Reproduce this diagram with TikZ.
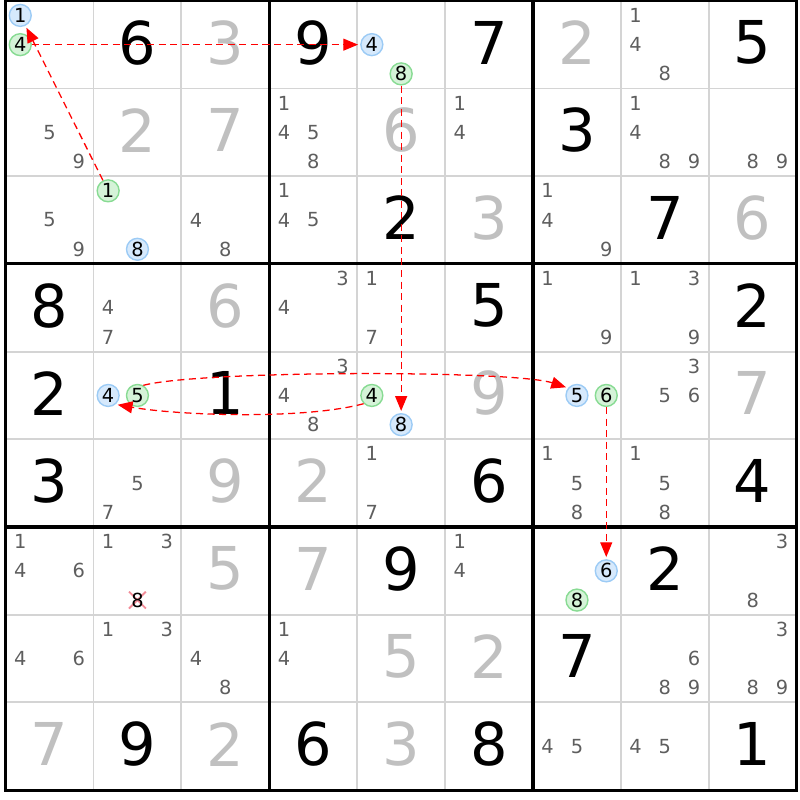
\documentclass[tikz,border=0pt]{standalone}
\usepackage{fontspec}
\setmainfont{DejaVu Sans}
\usetikzlibrary{arrows.meta}
\definecolor{cluegray}{HTML}{C0C0C0}
\definecolor{candgray}{HTML}{5E5E5E}
\definecolor{onfill}{HTML}{D6E9FC}
\definecolor{ondraw}{HTML}{9CCBF5}
\definecolor{offfill}{HTML}{D5F3D8}
\definecolor{offdraw}{HTML}{88DB93}
\definecolor{thingrid}{HTML}{D4D4D4}
\definecolor{strike}{HTML}{F28C98}

\begin{document}
\begin{tikzpicture}[x=2.1975cm, y=-2.1925cm, >={Triangle[length=10.5pt,width=8.5pt]},
        given/.style={font=\fontsize{42}{42}\selectfont, text=black, inner sep=0pt, yshift=1.5pt},
        solved/.style={given, text=cluegray},
        cand/.style={font=\fontsize{13.8}{14}\selectfont, text=candgray, inner sep=0pt},
        linkon/.style={cand, circle, text=black, draw=ondraw, fill=onfill, line width=1pt, minimum size=15.6pt},
        linkoff/.style={linkon, draw=offdraw, fill=offfill},
        link/.style={red, line width=.9pt, dash pattern=on 5pt off 3.2pt, shorten >=1.5pt}]
        \useasboundingbox (-0.0637,-0.0091) rectangle (9.0375,9.1129);
        \foreach \i in {1,2,4,5,7,8} {
          \draw[thingrid, line width=1.4pt] (\i,0) -- (\i,9);
          \draw[thingrid, line width=1.4pt] (0,\i) -- (9,\i);
        }
        \foreach \i in {3,6} {
          \draw[line width=2.2pt] (\i,0) -- (\i,9);
          \draw[line width=2.2pt] (0,\i) -- (9,\i);
        }
        \draw[line width=2.2pt] (0,0) rectangle (9,9);
        % big digits
        \foreach \r/\c/\v in {1/2/6,1/4/9,1/6/7,1/9/5,2/7/3,3/5/2,3/8/7,4/1/8,4/6/5,4/9/2,
            5/1/2,5/3/1,6/1/3,6/6/6,6/9/4,7/5/9,7/8/2,8/7/7,9/2/9,9/4/6,9/6/8,9/9/1}
          \node[given] (g\r\c) at (\c-.5,\r-.5) {\v};
        \foreach \r/\c/\v in {1/3/3,1/7/2,2/2/2,2/3/7,2/5/6,3/6/3,3/9/6,4/3/6,5/6/9,5/9/7,
            6/3/9,6/4/2,7/3/5,7/4/7,8/5/5,8/6/2,9/1/7,9/3/2,9/5/3}
          \node[solved] (g\r\c) at (\c-.5,\r-.5) {\v};
        % candidates
        \foreach \r/\c/\ds in {1/8/{1,4,8},2/1/{5,9},2/4/{1,4,5,8},2/6/{1,4},2/8/{1,4,8,9},2/9/{8,9},
            3/1/{5,9},3/3/{4,8},3/4/{1,4,5},3/7/{1,4,9},4/2/{4,7},4/4/{3,4},4/5/{1,7},4/7/{1,9},
            4/8/{1,3,9},5/4/{3,4,8},5/8/{3,5,6},6/2/{5,7},6/5/{1,7},6/7/{1,5,8},6/8/{1,5,8},
            7/1/{1,4,6},7/2/{1,3},7/6/{1,4},7/9/{3,8},8/1/{4,6},8/2/{1,3},8/3/{4,8},8/4/{1,4},
            8/8/{6,8,9},8/9/{3,8,9},9/7/{4,5},9/8/{4,5}}
          \foreach \d in \ds {
            \pgfmathsetmacro\cx{\c-1+(mod(\d-1,3)+.5)/3}
            \pgfmathsetmacro\cy{\r-1+(floor((\d-1)/3)+.5)/3}
            \node[cand] (c\r\c\d) at (\cx,\cy) {\d};
          }
        \foreach \r/\c/\d/\s in {1/1/1/linkon,1/1/4/linkoff,1/5/4/linkon,1/5/8/linkoff,
            3/2/1/linkoff,3/2/8/linkon,5/2/4/linkon,5/2/5/linkoff,5/5/4/linkoff,5/5/8/linkon,
            5/7/5/linkon,5/7/6/linkoff,7/7/6/linkon,7/7/8/linkoff} {
            \pgfmathsetmacro\cx{\c-1+(mod(\d-1,3)+.5)/3}
            \pgfmathsetmacro\cy{\r-1+(floor((\d-1)/3)+.5)/3}
            \node[\s] (c\r\c\d) at (\cx,\cy) {\d};
          }
        % eliminated candidate
        \coordinate (x728) at (1.5,6.8333);
        \draw[strike, line width=1.3pt] ([shift={(-6pt,6pt)}]x728) -- ([shift={(6pt,-6pt)}]x728);
        \draw[strike, line width=1.3pt] ([shift={(-6pt,-6pt)}]x728) -- ([shift={(6pt,6pt)}]x728);
        \node[cand, text=black] (c728) at (x728) {8};
        % chain
        \draw[link,->] (c321) -- (c111);
        \draw[link,->] (c114) -- (c154);
        \draw[link,->] (c158) -- (c558);
        \draw[link,->] (c554.225) to[out=195,in=-10,looseness=.65] (c524.310);
        \draw[link,->] (c525.60) to[out=15,in=162,looseness=.35] (c575.140);
        \draw[link,->] (c576) -- (c776);
      \end{tikzpicture}
\end{document}
